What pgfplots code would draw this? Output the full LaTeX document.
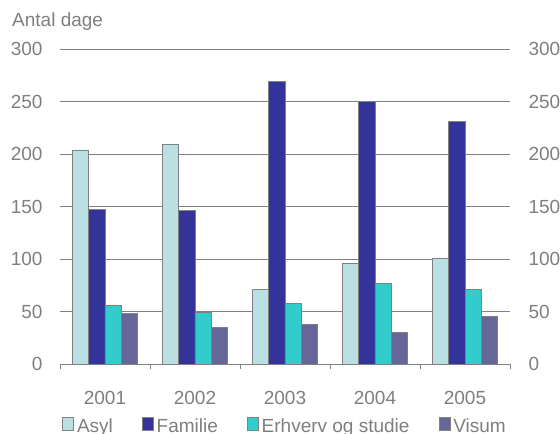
\documentclass[border=0pt]{standalone}
\usepackage{pgfplots}
\pgfplotsset{compat=1.18}
\usepackage{fontspec}
\setmainfont{Liberation Sans}
\definecolor{txt}{HTML}{7F7F7F}
\definecolor{grd}{HTML}{808080}
\definecolor{cAsyl}{HTML}{BBE0E3}
\definecolor{cFam}{HTML}{333399}
\definecolor{cErh}{HTML}{33CCCC}
\definecolor{cVis}{HTML}{666699}
\begin{document}
\fontsize{19bp}{22bp}\selectfont
\begin{tikzpicture}
\useasboundingbox (-60bp,-70bp) rectangle (500bp,364bp);
\begin{axis}[
  scale only axis, width=450bp, height=315bp,
  at={(0,0)}, anchor=south west,
  xmin=-0.5, xmax=4.5, ymin=0, ymax=300,
  ybar=0pt, bar width=16.2bp,
  axis x line*=bottom, axis y line*=left,
  x axis line style={draw=grd, line width=0.8bp, -},
  y axis line style={draw=none},
  xtick={-0.5,0.5,...,4.5},
  x tick label as interval,
  xticklabels={2001,2002,2003,2004,2005},
  xtick style={draw=grd, line width=0.8bp},
  tick align=outside, major tick length=5bp,
  ytick={0,50,...,300},
  ytick style={draw=none},
  ymajorgrids, grid style={draw=grd, line width=0.8bp},
  tick label style={font=\fontsize{19bp}{22bp}\selectfont, text=txt},
  /pgf/number format/assume math mode=true,
  yticklabel style={anchor=east, xshift=-6bp},
  xticklabel style={yshift=-16bp},
  legend style={draw=none, at={(0.5,-0.168)}, anchor=north, legend columns=4,
    font=\fontsize{19bp}{22bp}\selectfont, text=txt, inner sep=0pt,
    /tikz/every odd column/.append style={column sep=1bp},
    /tikz/every even column/.append style={column sep=27bp}},
  legend image code/.code={\draw[#1, draw=grd, line width=0.8bp] (0bp,-3bp) rectangle (11bp,10bp);},
  legend cell align=left,
  every axis plot/.append style={draw=grd, line width=0.8bp},
]
\addplot[fill=cAsyl] coordinates {(0,203) (1,209) (2,71) (3,96) (4,101)};
\addplot[fill=cFam] coordinates {(0,147) (1,146) (2,269) (3,250) (4,231)};
\addplot[fill=cErh] coordinates {(0,56) (1,49) (2,58) (3,77) (4,71)};
\addplot[fill=cVis] coordinates {(0,48) (1,35) (2,38) (3,30) (4,45)};
\legend{Asyl,Familie,Erhverv og studie,Visum}
\end{axis}
\begin{axis}[
  scale only axis, width=450bp, height=315bp,
  at={(0,0)}, anchor=south west,
  xmin=-0.5, xmax=4.5, ymin=0, ymax=300,
  axis x line=none, axis y line*=right,
  y axis line style={draw=none},
  ytick={0,50,...,300}, ytick style={draw=none},
  tick label style={font=\fontsize{19bp}{22bp}\selectfont, text=txt},
  /pgf/number format/assume math mode=true,
  yticklabel style={anchor=west, xshift=12bp},
]
\end{axis}
\node[anchor=base west, text=txt, inner sep=0pt, font=\fontsize{19bp}{22bp}\selectfont] at (-48bp,337bp) {Antal dage};
\end{tikzpicture}
\end{document}
